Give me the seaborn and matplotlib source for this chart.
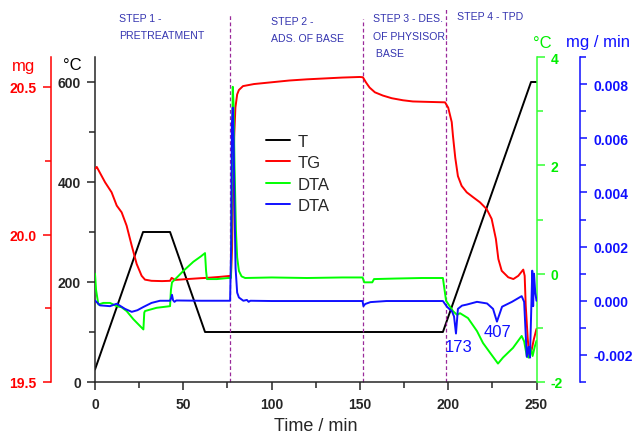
import numpy as np
import pandas as pd
import matplotlib
matplotlib.use("Agg")
import matplotlib.pyplot as plt
from matplotlib.ticker import MultipleLocator
from matplotlib.lines import Line2D
import seaborn as sns

# ---------------- data ----------------
t_time = [0, 27.2, 42.5, 62.3, 197.0, 246.9, 250]
t_vals = [25, 300, 300, 100, 100, 600, 600]

tg_time = [0, 1, 5.7, 9.4, 12.3, 15.1, 17.9, 20.8, 23.6, 26.4, 28.3, 32, 38, 42.5, 43.4, 44.2,
           45.3, 50, 55, 60, 63.4, 70, 75.3, 77.0, 77.6, 78.2, 78.8, 79.5, 80.5, 81.5, 83.8, 90,
           100, 110, 120, 130, 140, 150, 151.7, 153.5, 155.5, 158.5, 163, 168, 174.4, 180, 185.7,
           192, 198.2, 200, 202, 202.7, 204, 205.5, 207.6, 210.5, 214.2, 218, 221.8, 224.6, 227,
           228.4, 230.3, 234, 236.9, 239.7, 242.5, 243.3, 243.9, 245, 245.9, 247.3, 248.5, 250]
tg_vals = [20.222, 20.229, 20.177, 20.143, 20.098, 20.075, 20.030, 19.962, 19.900, 19.860, 19.847,
           19.843, 19.842, 19.843, 19.853, 19.850, 19.846, 19.848, 19.850, 19.852, 19.853, 19.856,
           19.859, 19.860, 19.95, 20.15, 20.33, 20.43, 20.475, 20.49, 20.503, 20.510, 20.516, 20.522,
           20.526, 20.529, 20.532, 20.534, 20.533, 20.515, 20.498, 20.482, 20.471, 20.462, 20.455,
           20.451, 20.450, 20.449, 20.448, 20.43, 20.381, 20.334, 20.26, 20.198, 20.165, 20.143,
           20.126, 20.109, 20.086, 20.053, 19.985, 19.917, 19.877, 19.855, 19.849, 19.860, 19.881,
           19.86, 19.759, 19.65, 19.584, 19.61, 19.645, 19.68]

dtac_time = [0, 0.6, 1.9, 4.7, 8.5, 12.3, 15, 17.9, 21.7, 25, 27.4, 27.9, 28.3, 34.9, 42.5, 43.0,
             43.6, 47, 50, 55.7, 60, 62.3, 62.9, 63.4, 69, 75.3, 77.0, 77.5, 78.0, 78.5, 79.0, 79.8,
             80.5, 81.5, 83, 85, 100, 120, 140, 151.5, 152.5, 157, 158, 170, 185, 197, 198.8,
             202.7, 205, 206.7, 211.2, 216.3, 219.7, 223.7, 228.2, 231, 236.7, 241.6, 243, 244.5,
             245.5, 246.7, 247.8, 249, 250]
dtac_vals = [0.0, -0.3, -0.57, -0.54, -0.54, -0.60, -0.62, -0.69, -0.84, -0.95, -1.03, -0.72,
             -0.69, -0.63, -0.60, -0.30, -0.16, -0.05, 0.05, 0.22, 0.32, 0.38, 0.05, -0.10, -0.10,
             -0.08, -0.08, 1.5, 3.45, 3.1, 2.0, 0.8, 0.3, 0.05, -0.05, -0.08, -0.07, -0.08, -0.07,
             -0.07, -0.16, -0.16, -0.10, -0.09, -0.08, -0.08, -0.50, -0.69, -0.76, -0.73, -0.82,
             -1.06, -1.28, -1.46, -1.66, -1.55, -1.37, -1.15, -1.25, -1.52, -1.55, -1.37, -1.52,
             -1.35, -1.24]

dtam_time = [0, 2.8, 8.5, 12.3, 17, 20.8, 24, 27.4, 32, 36.8, 42.5, 43.2, 43.6, 44.2, 45, 46, 60,
             76.5, 77.1, 77.5, 78.0, 78.5, 79.0, 79.6, 80.5, 81.5, 84, 86, 87, 88, 100, 151.5, 152,
             153, 156, 165, 197, 199.3, 202.2, 203.3, 204.4, 205.5, 207.8, 210.6, 216.3, 222, 225.4,
             227.6, 230.5, 236.1, 241.6, 243, 244.5, 245.5, 246.3, 247.0, 247.6, 248.1, 248.6,
             249.3, 250]
dtam_vals = [0.00001, -0.00017, -0.00020, -0.00011, -0.00030, -0.00041, -0.00035, -0.00023,
             -0.00008, 0.0, 0.0, 0.00012, 0.00022, 0.00002, -0.00004, 0.00001, 0.0,
             0.0, 0.002, 0.0065, 0.00713, 0.0060, 0.0035, 0.0012, 0.0003, 0.00012, 0.0,
             0.00003, -0.00004, 0.0, -0.00001, -0.00001, -0.00020, -0.00012, -0.00005, -0.00001, -0.00001,
             -0.00022, -0.00040, -0.00058, -0.00121, -0.00030, -0.00018, -0.00014, -0.00004,
             -0.00010, -0.00030, -0.00077, -0.00022, -0.00004, 0.00017, -0.00004, -0.00207,
             -0.0017, -0.0021, -0.0004, 0.00111, -0.0002, 0.0010, 0.0003, 0.0]

x_ticks = [0, 50, 100, 150, 200, 250]
c_ticks = [0, 200, 400, 600]
mg_ticks = [19.5, 20.0, 20.5]
g_ticks = [-2, 0, 2, 4]
b_ticks = [-0.002, 0.000, 0.002, 0.004, 0.006, 0.008]

step_times = [76.5, 152, 198.5]
step_labels = [["STEP 1 -", "PRETREATMENT"], ["STEP 2 -", "ADS. OF BASE"],
               ["STEP 3 - DES.", "OF PHYSISOR.", " BASE"], ["STEP 4 - TPD"]]
peak_labels = ["173", "407"]
legend_labels = ["T", "TG", "DTA", "DTA"]

# ---------------- style ----------------
sns.set_style("ticks")
plt.rcParams["font.family"] = ["Liberation Sans", "DejaVu Sans"]

W, H = 633, 435
fig = plt.figure(figsize=(W / 100, H / 100), dpi=100)

def fx(px):
    return px / W

def fy(py):
    return 1 - py / H

x0, x1, y0, y1 = 95, 536.5, 58, 383
ax = fig.add_axes([fx(x0), fy(y1), (x1 - x0) / W, (y1 - y0) / H])
ax_mg = ax.twinx()
ax_g = ax.twinx()
ax_b = ax.twinx()

RED = "#ff0000"
GREEN = "#00ee00"
GSPINE = "#33ff33"
BLUE = "#1010ff"
lw = 1.4
slw = 1.1

df_t = pd.DataFrame({"time": t_time, "val": t_vals})
df_tg = pd.DataFrame({"time": tg_time, "val": tg_vals})
df_g = pd.DataFrame({"time": dtac_time, "val": dtac_vals})
df_b = pd.DataFrame({"time": dtam_time, "val": dtam_vals})

sns.lineplot(data=df_t, x="time", y="val", ax=ax, color="black", lw=lw, estimator=None, sort=False)
sns.lineplot(data=df_tg, x="time", y="val", ax=ax_mg, color=RED, lw=lw, estimator=None, sort=False)
sns.lineplot(data=df_g, x="time", y="val", ax=ax_g, color="#00ff00", lw=lw, estimator=None, sort=False)
sns.lineplot(data=df_b, x="time", y="val", ax=ax_b, color=BLUE, lw=lw, estimator=None, sort=False)

for a in (ax, ax_mg, ax_g, ax_b):
    a.set_xlabel("")
    a.set_ylabel("")
    a.set_xlim(0, 250)
    for s in a.spines.values():
        s.set_visible(False)
        s.set_linewidth(slw)

# main axis (°C black)
ax.set_ylim(0, 650)
ax.spines["left"].set_visible(True)
ax.spines["bottom"].set_visible(True)
ax.set_xticks(x_ticks, [str(v) for v in x_ticks], fontweight="bold", fontsize=10)
ax.set_yticks(c_ticks, [str(v) for v in c_ticks], fontweight="bold", fontsize=10)
ax.yaxis.set_minor_locator(MultipleLocator(100))
ax.xaxis.set_minor_locator(MultipleLocator(25))
ax.tick_params(axis="both", which="major", length=6, width=slw, pad=4)
ax.tick_params(axis="both", which="minor", length=4, width=slw)
ax.tick_params(axis="x", pad=5)
ax.set_xlabel("Time / min", fontsize=13, labelpad=4)

# mg axis (red)
ax_mg.set_ylim(19.5, 19.5 + 325 / 295)
ax_mg.spines["left"].set_visible(True)
ax_mg.spines["left"].set_position(("axes", (50.7 - x0) / (x1 - x0)))
ax_mg.spines["left"].set_color(RED)
ax_mg.yaxis.set_ticks_position("left")
ax_mg.yaxis.set_label_position("left")
ax_mg.set_yticks(mg_ticks, ["%.1f" % v for v in mg_ticks], fontweight="bold", fontsize=10)
ax_mg.yaxis.set_minor_locator(MultipleLocator(0.25))
ax_mg.tick_params(axis="y", which="major", length=6, width=slw, colors=RED, pad=4)
ax_mg.tick_params(axis="y", which="minor", length=4, width=slw, colors=RED)

# green DTA axis
ax_g.set_ylim(-2, 4)
ax_g.spines["right"].set_visible(True)
ax_g.spines["right"].set_color(GSPINE)
ax_g.set_yticks(g_ticks, ["%d" % v for v in g_ticks], fontweight="bold", fontsize=10)
ax_g.yaxis.set_minor_locator(MultipleLocator(1))
ax_g.tick_params(axis="y", which="major", length=6, width=slw, color=GSPINE, labelcolor=GREEN, pad=4)
ax_g.tick_params(axis="y", which="minor", length=4, width=slw, color=GSPINE)

# blue DTA axis
ax_b.set_ylim(-0.003, 0.009)
ax_b.spines["right"].set_visible(True)
ax_b.spines["right"].set_position(("axes", (580 - x0) / (x1 - x0)))
ax_b.spines["right"].set_color(BLUE)
ax_b.set_yticks(b_ticks, ["%.3f" % v for v in b_ticks], fontweight="bold", fontsize=10)
ax_b.yaxis.set_minor_locator(MultipleLocator(0.001))
ax_b.tick_params(axis="y", which="major", length=5, width=slw, colors=BLUE, pad=5)
ax_b.tick_params(axis="y", which="minor", length=4, width=slw, colors=BLUE)

# step separators
tops = [15, 20, 10]
for st, tp in zip(step_times, tops):
    ax.axvline(st, ymin=0, ymax=(y1 - tp) / (y1 - y0), clip_on=False,
               color="#9a2a9a", lw=0.9, ls=(0, (3, 2)))

# step labels
STEPC = "#3535b0"
step_pos = [[(118.7, 19.5), (118.7, 36)],
            [(270.7, 21.7), (270.7, 39)],
            [(372.7, 19.3), (372.7, 36.7), (372.7, 54)],
            [(456.7, 17.3)]]
for lines, poss in zip(step_labels, step_pos):
    for txt, (px, py) in zip(lines, poss):
        fig.text(fx(px), fy(py), txt, fontsize=7.6, color=STEPC, ha="left", va="center")

# unit labels
fig.text(fx(24), fy(66), "mg", fontsize=12, color=RED, ha="center", va="center")
fig.text(fx(72), fy(65), "°C", fontsize=12, color="black", ha="center", va="center")
fig.text(fx(542), fy(43), "°C", fontsize=12, color=GREEN, ha="center", va="center")
fig.text(fx(598), fy(43), "mg / min", fontsize=12, color=BLUE, ha="center", va="center")

# peak annotations
fig.text(fx(459), fy(348), peak_labels[0], fontsize=12, color=BLUE, ha="center", va="center")
fig.text(fx(498), fy(333), peak_labels[1], fontsize=12, color=BLUE, ha="center", va="center")

# legend
handles = [Line2D([], [], color=c, lw=lw) for c in ["black", RED, "#00ff00", BLUE]]
ax_b.legend(handles, legend_labels, loc="upper left", bbox_to_anchor=(fx(266), fy(135)),
            bbox_transform=fig.transFigure, frameon=False, fontsize=12, handlelength=1.45,
            handletextpad=0.45, labelspacing=0.38, borderpad=0, borderaxespad=0)

fig.savefig("out.png", dpi=100)
